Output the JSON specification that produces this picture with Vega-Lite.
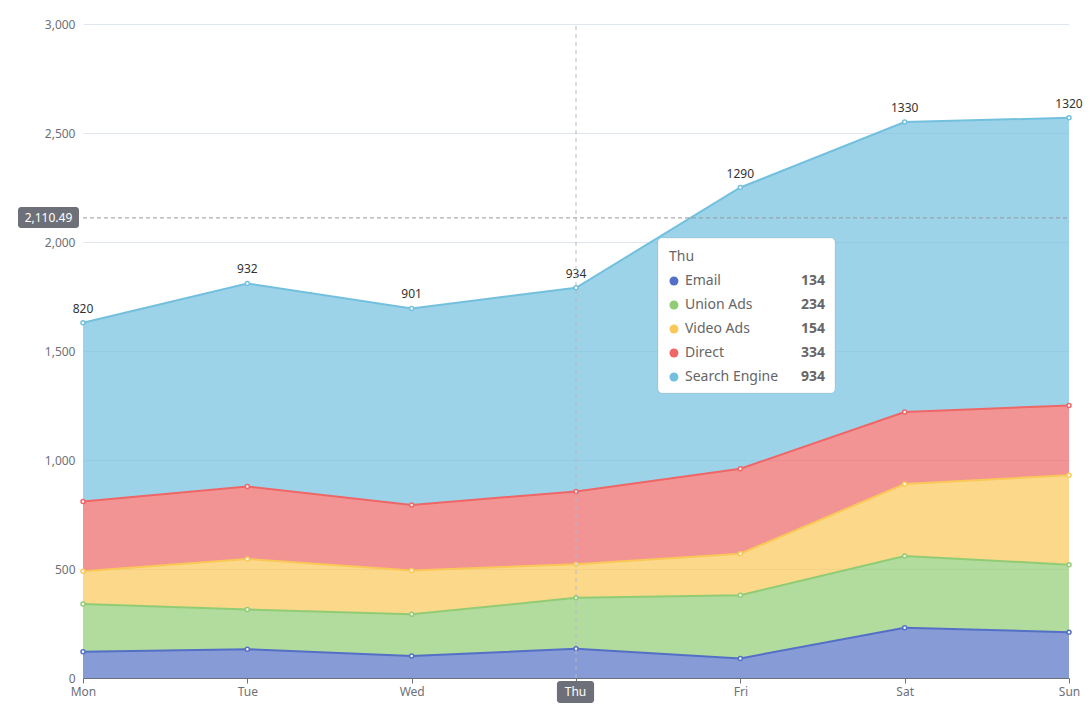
{
  "$schema": "https://vega.github.io/schema/vega-lite/v6.json",
  "width": 986,
  "height": 654,
  "autosize": {"type": "none"},
  "padding": {"left": 83, "top": 24, "right": 21, "bottom": 30},
  "background": "white",
  "config": {"view": {"stroke": null}, "font": "Noto Sans"},
  "data": {"values": [
    {"day": "Mon", "i": 0, "series": "Email", "value": 120},
    {"day": "Tue", "i": 1, "series": "Email", "value": 132},
    {"day": "Wed", "i": 2, "series": "Email", "value": 101},
    {"day": "Thu", "i": 3, "series": "Email", "value": 134},
    {"day": "Fri", "i": 4, "series": "Email", "value": 90},
    {"day": "Sat", "i": 5, "series": "Email", "value": 230},
    {"day": "Sun", "i": 6, "series": "Email", "value": 210},
    {"day": "Mon", "i": 0, "series": "Union Ads", "value": 220},
    {"day": "Tue", "i": 1, "series": "Union Ads", "value": 182},
    {"day": "Wed", "i": 2, "series": "Union Ads", "value": 191},
    {"day": "Thu", "i": 3, "series": "Union Ads", "value": 234},
    {"day": "Fri", "i": 4, "series": "Union Ads", "value": 290},
    {"day": "Sat", "i": 5, "series": "Union Ads", "value": 330},
    {"day": "Sun", "i": 6, "series": "Union Ads", "value": 310},
    {"day": "Mon", "i": 0, "series": "Video Ads", "value": 150},
    {"day": "Tue", "i": 1, "series": "Video Ads", "value": 232},
    {"day": "Wed", "i": 2, "series": "Video Ads", "value": 201},
    {"day": "Thu", "i": 3, "series": "Video Ads", "value": 154},
    {"day": "Fri", "i": 4, "series": "Video Ads", "value": 190},
    {"day": "Sat", "i": 5, "series": "Video Ads", "value": 330},
    {"day": "Sun", "i": 6, "series": "Video Ads", "value": 410},
    {"day": "Mon", "i": 0, "series": "Direct", "value": 320},
    {"day": "Tue", "i": 1, "series": "Direct", "value": 332},
    {"day": "Wed", "i": 2, "series": "Direct", "value": 301},
    {"day": "Thu", "i": 3, "series": "Direct", "value": 334},
    {"day": "Fri", "i": 4, "series": "Direct", "value": 390},
    {"day": "Sat", "i": 5, "series": "Direct", "value": 330},
    {"day": "Sun", "i": 6, "series": "Direct", "value": 320},
    {"day": "Mon", "i": 0, "series": "Search Engine", "value": 820},
    {"day": "Tue", "i": 1, "series": "Search Engine", "value": 932},
    {"day": "Wed", "i": 2, "series": "Search Engine", "value": 901},
    {"day": "Thu", "i": 3, "series": "Search Engine", "value": 934},
    {"day": "Fri", "i": 4, "series": "Search Engine", "value": 1290},
    {"day": "Sat", "i": 5, "series": "Search Engine", "value": 1330},
    {"day": "Sun", "i": 6, "series": "Search Engine", "value": 1320}
  ]},
  "transform": [
    {"calculate": "indexof(['Email','Union Ads','Video Ads','Direct','Search Engine'], datum.series)", "as": "k"}
  ],
  "layer": [
    {
      "layer": [
        {
          "mark": {"type": "area", "fillOpacity": 0.7},
          "encoding": {
            "x": {"field": "i", "type": "quantitative", "scale": {"domain": [0, 6], "nice": false, "zero": false},
              "axis": {"title": null, "values": [0, 1, 2, 3, 4, 5, 6], "labelExpr": "['Mon','Tue','Wed','Thu','Fri','Sat','Sun'][datum.value]", "grid": false, "domainColor": "#6E7079", "tickColor": "#6E7079", "tickSize": 5, "labelColor": "#6E7079", "labelFontSize": 12, "labelPadding": 3, "labelFlush": false}},
            "y": {"field": "value", "type": "quantitative", "stack": "zero", "scale": {"domain": [0, 3000], "nice": false},
              "axis": {"title": null, "values": [0, 500, 1000, 1500, 2000, 2500, 3000], "labelExpr": "format(datum.value, ',')", "domain": false, "ticks": false, "labelColor": "#6E7079", "labelFontSize": 12, "labelPadding": 8, "gridColor": "#E0E6F1", "labelFlush": false}},
            "color": {"field": "series", "type": "nominal", "scale": {"domain": ["Email", "Union Ads", "Video Ads", "Direct", "Search Engine"], "range": ["#5470c6", "#91cc75", "#fac858", "#ee6666", "#73c0de"]}, "legend": null},
            "order": {"field": "k", "type": "quantitative"}
          }
        },
        {
          "mark": {"type": "line", "strokeWidth": 2},
          "encoding": {
            "x": {"field": "i", "type": "quantitative"},
            "y": {"field": "value", "type": "quantitative", "stack": "zero"},
            "color": {"field": "series", "type": "nominal"},
            "order": {"field": "k", "type": "quantitative"}
          }
        },
        {
          "mark": {"type": "point", "filled": true, "fill": "white", "size": 16, "strokeWidth": 1.5, "opacity": 1},
          "encoding": {
            "x": {"field": "i", "type": "quantitative"},
            "y": {"field": "value", "type": "quantitative", "stack": "zero"},
            "stroke": {"field": "series", "type": "nominal", "scale": {"domain": ["Email", "Union Ads", "Video Ads", "Direct", "Search Engine"], "range": ["#5470c6", "#91cc75", "#fac858", "#ee6666", "#73c0de"]}, "legend": null},
            "order": {"field": "k", "type": "quantitative"}
          }
        },
        {
          "mark": {"type": "text", "fontSize": 12, "color": "#333", "baseline": "alphabetic", "dy": -10},
          "encoding": {
            "x": {"field": "i", "type": "quantitative"},
            "y": {"field": "value", "type": "quantitative", "stack": "zero"},
            "detail": {"field": "series", "type": "nominal"},
            "order": {"field": "k", "type": "quantitative"},
            "text": {"condition": {"test": "datum.series === 'Search Engine'", "field": "value", "type": "quantitative"}, "value": ""}
          }
        },
        {
          "data": {"values": [{}]},
          "mark": {"type": "rule", "color": "#B5B9C9", "strokeWidth": 1, "strokeDash": [4, 4]},
          "encoding": {
            "x": {"datum": 3, "type": "quantitative"},
            "y": {"datum": 0, "type": "quantitative"},
            "y2": {"datum": 3000}
          }
        },
        {
          "data": {"values": [{}]},
          "mark": {"type": "rule", "color": "#999999", "strokeWidth": 1, "strokeDash": [4, 3]},
          "encoding": {
            "y": {"datum": 2110.49, "type": "quantitative"},
            "x": {"datum": 0, "type": "quantitative"},
            "x2": {"datum": 6}
          }
        },
        {
          "data": {"values": [{}]},
          "mark": {"type": "rect", "fill": "#6E7079", "cornerRadius": 3},
          "encoding": {
            "x": {"datum": -0.3955, "type": "quantitative"},
            "x2": {"datum": -0.0243},
            "y": {"datum": 2160.5, "type": "quantitative"},
            "y2": {"datum": 2064.2}
          }
        },
        {
          "data": {"values": [{}]},
          "mark": {"type": "text", "color": "white", "fontSize": 12, "baseline": "middle", "align": "center", "text": "2,110.49"},
          "encoding": {
            "x": {"datum": -0.21, "type": "quantitative"},
            "y": {"datum": 2112, "type": "quantitative"}
          }
        },
        {
          "data": {"values": [{}]},
          "mark": {"type": "rect", "fill": "#6E7079", "cornerRadius": 3},
          "encoding": {
            "x": {"datum": 2.884, "type": "quantitative"},
            "x2": {"datum": 3.110},
            "y": {"datum": -13.8, "type": "quantitative"},
            "y2": {"datum": -114.7}
          }
        },
        {
          "data": {"values": [{}]},
          "mark": {"type": "text", "color": "white", "fontSize": 12, "baseline": "middle", "align": "center", "text": "Thu"},
          "encoding": {
            "x": {"datum": 2.997, "type": "quantitative"},
            "y": {"datum": -64, "type": "quantitative"}
          }
        },
        {
          "data": {"values": [{}]},
          "mark": {"type": "rect", "fill": "white", "cornerRadius": 4, "stroke": "#000000", "strokeOpacity": 0.08, "strokeWidth": 1},
          "encoding": {
            "x": {"datum": 3.499, "type": "quantitative"},
            "x2": {"datum": 4.576},
            "y": {"datum": 2018, "type": "quantitative"},
            "y2": {"datum": 1307}
          }
        },
        {
          "data": {"values": [{}]},
          "mark": {"type": "text", "color": "#666666", "fontSize": 14, "baseline": "middle", "align": "left", "text": "Thu"},
          "encoding": {
            "x": {"datum": 3.566, "type": "quantitative"},
            "y": {"datum": 1931, "type": "quantitative"}
          }
        }
      ]
    },
    {
      "transform": [{"filter": "datum.i === 3"}],
      "layer": [
        {
          "mark": {"type": "circle", "size": 80, "opacity": 1},
          "encoding": {
            "x": {"datum": 3.596, "type": "quantitative"},
            "y": {"field": "series", "type": "nominal", "scale": {"type": "point", "domain": ["Email", "Union Ads", "Video Ads", "Direct", "Search Engine"], "range": [257, 353], "padding": 0}, "axis": null},
            "color": {"field": "series", "type": "nominal"}
          }
        },
        {
          "mark": {"type": "text", "fontSize": 14, "color": "#666666", "align": "left", "baseline": "middle"},
          "encoding": {
            "x": {"datum": 3.663, "type": "quantitative"},
            "y": {"field": "series", "type": "nominal"},
            "text": {"field": "series", "type": "nominal"}
          }
        },
        {
          "mark": {"type": "text", "fontSize": 14, "fontWeight": "bold", "color": "#666666", "align": "right", "baseline": "middle"},
          "encoding": {
            "x": {"datum": 4.515, "type": "quantitative"},
            "y": {"field": "series", "type": "nominal"},
            "text": {"field": "value", "type": "quantitative"}
          }
        }
      ]
    }
  ],
  "resolve": {"scale": {"y": "independent"}}
}
